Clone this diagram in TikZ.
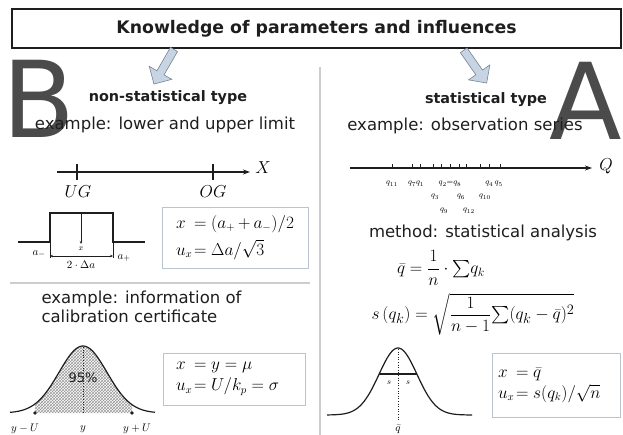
\documentclass[tikz,border=0pt]{standalone}
\usepackage[no-math]{fontspec}
\setmainfont{DejaVu Sans}
\usepackage{amsmath}
\usetikzlibrary{arrows.meta, shapes.arrows, patterns}
\definecolor{mydark}{RGB}{30,30,30}
\definecolor{mygray}{RGB}{75,75,75}
\definecolor{myline}{RGB}{205,205,205}
\definecolor{myframe}{RGB}{185,196,208}
\definecolor{myblue}{RGB}{198,212,228}
\definecolor{myarrowdraw}{RGB}{120,130,145}
\tikzset{
  titlebox/.style={rectangle, draw=mydark, line width=1.2pt, inner sep=0pt,
    font=\fontsize{17.3}{20}\selectfont\bfseries, text=mydark},
  headtext/.style={font=\fontsize{14.4}{17}\selectfont\bfseries, text=mydark},
  bodytext/.style={font=\fontsize{16.5}{19.5}\selectfont, text=mydark, align=left},
  bigletter/.style={font=\fontsize{106}{106}\selectfont, text=mygray, inner sep=0pt},
  formbox/.style={rectangle, draw=myframe, line width=0.9pt, inner sep=0pt,
    align=left, font=\fontsize{16}{19}\selectfont},
  eqtext/.style={font=\fontsize{17}{20}\selectfont, inner sep=0pt},
  axlabel/.style={font=\fontsize{16}{18}\selectfont, inner sep=0pt},
  smalllabel/.style={font=\fontsize{11}{12}\selectfont, inner sep=0pt},
  tinylabel/.style={font=\fontsize{8.5}{9}\selectfont, inner sep=0pt},
  fatarrow/.style={single arrow, draw=myarrowdraw, fill=myblue, line width=0.6pt,
    minimum height=40pt, minimum width=26pt, single arrow head extend=5pt, inner sep=2pt},
  axis/.style={-{Stealth[length=7pt,width=5pt]}, line width=1.3pt, color=mydark},
  curve/.style={line width=1.2pt, color=mydark},
  thinline/.style={line width=0.6pt, color=mydark},
  divider/.style={line width=1.2pt, color=myline}
}
\begin{document}
\begin{tikzpicture}[x=1pt, y=-1pt]
  \useasboundingbox (0,0) rectangle (623,435);

  % Big letters behind everything
  \node[bigletter] (letB) at (39,99) {B};
  \node[bigletter] (letA) at (586,101) {A};

  % Dividers
  \draw[divider] (320,67) -- (320,435);
  \draw[divider] (10,283) -- (310,283);

  % Title and arrows
  \node[titlebox, minimum width=609pt, minimum height=39pt] (title) at (316.5,28.5) {Knowledge of parameters and influences};
  \node[fatarrow, rotate=240] (arrowB) at (165,65) {};
  \node[fatarrow, rotate=305] (arrowA) at (474,65) {};

  % Left column: non-statistical type
  \node[headtext] (nonstat) at (168,98) {non-statistical type};
  \node[bodytext] (exlimit) at (165,125) {example: lower and upper limit};

  % limits on the axis
  \draw[axis] (57,172) -- (250,172);
  \draw[curve] (77,164) -- (77,180);
  \draw[curve] (213,164) -- (213,180);
  \node[axlabel] (xlab) at (263,168) {$X$};
  \node[axlabel] (uglab) at (78,192) {$UG$};
  \node[axlabel] (oglab) at (213,192) {$OG$};

  % rectangular distribution
  \draw[curve] (18,242) -- (50,242) -- (50,213) -- (113,213) -- (113,242) -- (145,242);
  \draw[thinline, -{Stealth[length=3pt,width=2.5pt]}] (81,213) -- (81,244);
  \draw[thinline] (50,242) -- (50,258);
  \draw[thinline] (113,242) -- (113,258);
  \draw[thinline, {Stealth[length=3pt,width=2.5pt]}-{Stealth[length=3pt,width=2.5pt]}] (50,256) -- (113,256);
  \node[tinylabel] (xmid) at (81,249) {$x$};
  \node[smalllabel] (aminus) at (39,254) {$a_-$};
  \node[smalllabel] (aplus) at (124,258) {$a_+$};
  \node[smalllabel] (twoda) at (81,265) {$2\cdot\Delta a$};

  \node[formbox, minimum width=146pt, minimum height=61pt, text width=118pt] (boxrect) at (235,237.5)
    {\makebox[18pt][l]{$x$}$= (a_+ + a_-)/2$\\[6pt]\makebox[18pt][l]{$u_x$}$= \Delta a/\sqrt{3}$};

  % calibration certificate
  \node[bodytext, anchor=west] (excert) at (38,307) {example: information of\\calibration certificate};

  \fill[pattern=crosshatch, pattern color=gray!80] plot[domain=35:132, samples=60]
    (\x, {413-67*exp(-0.5*((\x-83)/24)^2)}) -- (132,413) -- (35,413) -- cycle;
  \draw[curve] plot[domain=10:155, samples=90] (\x, {413-67*exp(-0.5*((\x-83)/24)^2)});
  \draw[thinline, dotted] (83,347) -- (83,413);
  \fill[mydark] (35,413) circle (1.8pt) (132,413) circle (1.8pt);
  \node[font=\fontsize{13}{15}\selectfont, text=mydark] (pct) at (83,378) {95\%};
  \node[smalllabel] (ylow) at (25,429) {$y-U$};
  \node[smalllabel] (ymid) at (83,429) {$y$};
  \node[smalllabel] (yhigh) at (137,429) {$y+U$};

  \node[formbox, minimum width=142pt, minimum height=52pt, text width=116pt] (boxcert) at (234,379)
    {\makebox[18pt][l]{$x$}$= y = \mu$\\[2pt]\makebox[18pt][l]{$u_x$}$= U/k_p = \sigma$};

  % Right column: statistical type
  \node[headtext] (stat) at (486,100) {statistical type};
  \node[bodytext] (exseries) at (465,126) {example: observation series};

  % observation series on the axis
  \draw[axis] (350,168) -- (592,168);
  \foreach \t in {392,412,420,433,441,450,459,466,480,489,500}
    \draw[thinline] (\t,164) -- (\t,168);
  \node[axlabel] (qlab) at (606,166) {$Q$};
  \node[tinylabel] (o11) at (392,184) {$q_{11}$};
  \node[tinylabel] (o71) at (416,184) {$q_7q_1$};
  \node[tinylabel] (o28) at (450,184) {$q_2{=}q_8$};
  \node[tinylabel] (o45) at (494,184) {$q_4\,q_5$};
  \node[tinylabel] (o3) at (435,197) {$q_3$};
  \node[tinylabel] (o6) at (461,197) {$q_6$};
  \node[tinylabel] (o10) at (485,197) {$q_{10}$};
  \node[tinylabel] (o9) at (444,211) {$q_9$};
  \node[tinylabel] (o12) at (469,211) {$q_{12}$};

  \node[bodytext] (method) at (483,233) {method: statistical analysis};
  \node[eqtext] (meaneq) at (441,268) {$\bar q = \dfrac{1}{n}\cdot{\textstyle\sum} q_k$};
  \node[eqtext, font=\fontsize{19}{22}\selectfont] (sdeq) at (473,314)
    {$s\,(q_k) = \sqrt{\dfrac{1}{n-1}{\textstyle\sum}(q_k-\bar q)^2}$};

  % normal distribution with s
  \draw[curve] plot[domain=327:472, samples=90] (\x, {415-67*exp(-0.5*((\x-398)/19)^2)});
  \draw[curve] (379,374) -- (417,374);
  \draw[thinline, dotted] (398,349) -- (398,421);
  \node[tinylabel] (sleft) at (389,383) {$s$};
  \node[tinylabel] (sright) at (408,383) {$s$};
  \node[smalllabel] (qbar) at (398,429) {$\bar q$};

  \node[formbox, minimum width=128pt, minimum height=64pt, text width=116pt] (boxstat) at (556,385)
    {\makebox[18pt][l]{$x$}$= \bar q$\\[2pt]\makebox[18pt][l]{$u_x$}$= s(q_k)/\sqrt{n}$};
\end{tikzpicture}
\end{document}
